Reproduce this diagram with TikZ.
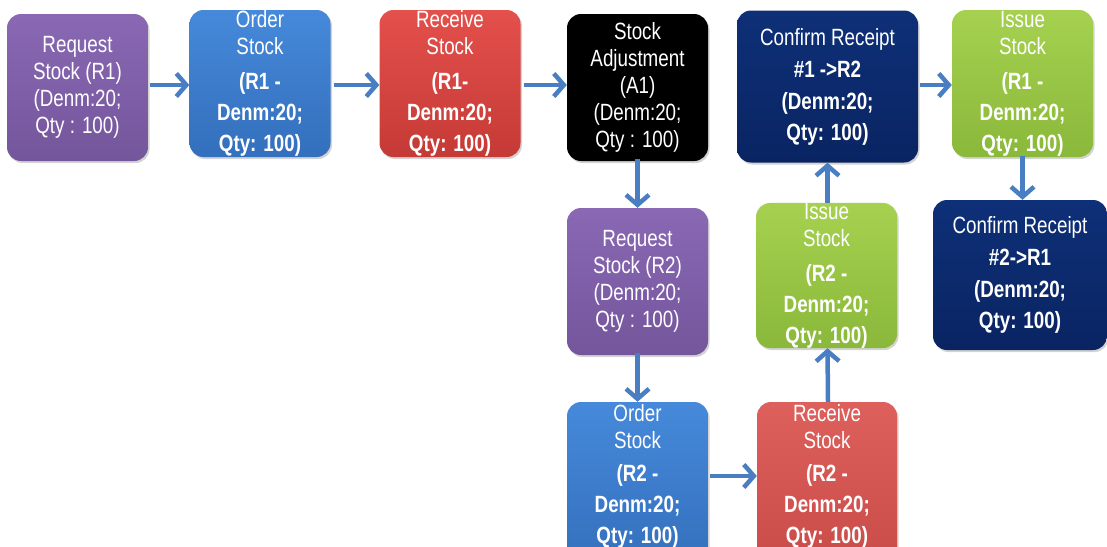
\documentclass[tikz,border=0pt]{standalone}
\usepackage{fontspec}
\newfontfamily\nf[FakeStretch=0.8]{Liberation Sans}
\usetikzlibrary{arrows.meta,shadows}
\definecolor{arrc}{HTML}{4A7EC2}
\definecolor{purT}{HTML}{8A68B4}\definecolor{purB}{HTML}{74569C}
\definecolor{bluT}{HTML}{4689DA}\definecolor{bluB}{HTML}{336FBC}
\definecolor{redT}{HTML}{E4504C}\definecolor{redB}{HTML}{C53A36}
\definecolor{rd2T}{HTML}{DE605C}\definecolor{rd2B}{HTML}{C94B47}
\definecolor{navT}{HTML}{0E3078}\definecolor{navB}{HTML}{0A2462}
\definecolor{grnT}{HTML}{A6D150}\definecolor{grnB}{HTML}{8AB83A}
\tikzset{
  txt/.style={inner sep=0pt, align=center, text=white,
    font=\nf\fontsize{23.5}{27}\selectfont},
  box/.style={txt, rounded corners=14pt, minimum width=141pt, minimum height=147pt,
    drop shadow={opacity=0.35, shadow xshift=1.5pt, shadow yshift=-2pt}},
  purbox/.style={box, top color=purT, bottom color=purB},
  blubox/.style={box, top color=bluT, bottom color=bluB},
  redbox/.style={box, top color=redT, bottom color=redB},
  rd2box/.style={box, top color=rd2T, bottom color=rd2B},
  blkbox/.style={box, fill=black},
  navbox/.style={box, top color=navT, bottom color=navB},
  grnbox/.style={box, top color=grnT, bottom color=grnB},
  arr/.style={draw=arrc, line width=4.5pt,
    -{Straight Barb[length=10pt, width=23pt, line width=4.5pt]}}
}
\begin{document}
\begin{tikzpicture}[x=1pt,y=-1pt]
\useasboundingbox (0,0) rectangle (1107,546);
\begin{scope}
\clip (0,0) rectangle (1107,546);
\node[purbox] (b1) at (77.5,87.5) {Request\\Stock (R1)\\(Denm:20;\\Qty : 100)};
\node[blubox] (b2) at (260,83.5) {Order\\Stock\\[8pt]\bfseries (R1 -\\[4pt]\bfseries Denm:20;\\[4pt]\bfseries Qty: 100)};
\node[redbox] (b3) at (450,83.5) {Receive\\Stock\\[8pt]\bfseries (R1-\\[4pt]\bfseries Denm:20;\\[4pt]\bfseries Qty: 100)};
\node[blkbox] (b4) at (637.5,87.5) {Stock\\Adjustment\\(A1)\\(Denm:20;\\Qty : 100)};
\node[navbox, minimum width=181pt, minimum height=152pt] (b5) at (827.5,86.5) {Confirm Receipt\\[5pt]\bfseries \#1 ->R2\\[5pt]\bfseries (Denm:20;\\[4pt]\bfseries Qty: 100)};
\node[grnbox] (b6) at (1022.5,83.5) {Issue\\Stock\\[8pt]\bfseries (R1 -\\[4pt]\bfseries Denm:20;\\[4pt]\bfseries Qty: 100)};
\node[purbox] (b7) at (637.5,281.5) {Request\\Stock (R2)\\(Denm:20;\\Qty : 100)};
\node[grnbox, minimum height=145pt] (b8) at (826.5,275.5) {Issue\\Stock\\[8pt]\bfseries (R2 -\\[4pt]\bfseries Denm:20;\\[4pt]\bfseries Qty: 100)};
\node[navbox, minimum width=174pt, minimum height=150pt] (b9) at (1020,275) {Confirm Receipt\\[5pt]\bfseries \#2->R1\\[5pt]\bfseries (Denm:20;\\[4pt]\bfseries Qty: 100)};
\node[blubox, minimum height=170pt] (b10) at (637.5,487) {};
\node[rd2box, minimum width=140pt, minimum height=170pt] (b11) at (827,487) {};
\node[txt] (t10) at (637.5,476) {Order\\Stock\\[6pt]\bfseries (R2 -\\[4pt]\bfseries Denm:20;\\[4pt]\bfseries Qty: 100)};
\node[txt] (t11) at (827,476) {Receive\\Stock\\[6pt]\bfseries (R2 -\\[4pt]\bfseries Denm:20;\\[4pt]\bfseries Qty: 100)};
\end{scope}
\coordinate (row) at ([yshift=2.5pt]b1.east);
\draw[arr] ([xshift=2pt]row) -- (row -| b2.west);
\draw[arr] ([xshift=3pt]b2.east |- row) -- (row -| b3.west);
\draw[arr] ([xshift=3pt]b3.east |- row) -- (row -| b4.west);
\draw[arr] ([yshift=2pt]b4.south) -- (b4.south |- b7.north);
\draw[arr] ([yshift=2pt]b7.south) -- (b7.south |- b10.north);
\draw[arr] ([xshift=2pt]b10.east |- t10.center) -- (t10.center -| b11.west);
\draw[arr] ([xshift=1pt]b11.north) -- ([xshift=1pt]b8.south);
\draw[arr] ([xshift=1pt]b8.north) -- ([xshift=1pt]b8.north |- b5.south);
\draw[arr] ([xshift=2pt]b5.east |- row) -- (row -| b6.west);
\draw[arr] ([yshift=1pt]b6.south) -- (b6.south |- b9.north);
\end{tikzpicture}
\end{document}
